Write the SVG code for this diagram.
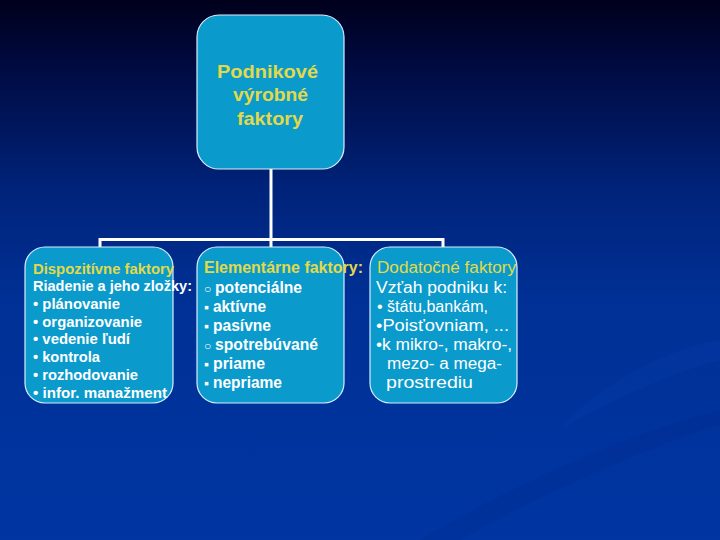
<svg xmlns="http://www.w3.org/2000/svg" width="720" height="540" viewBox="0 0 720 540">
<defs>
<linearGradient id="bg" x1="0" y1="0" x2="0" y2="1">
<stop offset="0" stop-color="#00001c"/>
<stop offset="0.12" stop-color="#000a40"/>
<stop offset="0.35" stop-color="#00237a"/>
<stop offset="0.55" stop-color="#003095"/>
<stop offset="1" stop-color="#0035a2"/>
</linearGradient>
<style>
.box{fill:#0a9acc;stroke:#d8eeff;stroke-width:1.2}
.conn{stroke:#ffffff;stroke-width:3;fill:none}
.t{font-family:"Liberation Sans",Arial,sans-serif;fill:#ffffff}
.y{fill:#e2d94a}
.b{font-weight:bold}
</style>
</defs>
<rect width="720" height="540" fill="url(#bg)"/>
<path d="M560,430 C600,380 680,345 720,340 L720,360 C680,370 610,400 560,430 Z" fill="#0a3fae" opacity="0.25"/>
<path d="M420,540 C520,480 640,430 720,410 L720,425 C650,445 540,495 460,540 Z" fill="#002a88" opacity="0.2"/>
<g id="connectors">
<line class="conn" x1="271" y1="169" x2="271" y2="248"/>
<polyline class="conn" points="100,248 100,239.5 443,239.5 443,248"/>
</g>
<g id="top">
<rect class="box" x="197" y="15" width="147" height="154" rx="22"/>
<text class="t y b" font-size="19" x="217" y="78" textLength="101" lengthAdjust="spacingAndGlyphs">Podnikové</text>
<text class="t y b" font-size="19" x="233" y="101" textLength="75" lengthAdjust="spacingAndGlyphs">výrobné</text>
<text class="t y b" font-size="19" x="237" y="125" textLength="66" lengthAdjust="spacingAndGlyphs">faktory</text>
</g>
<g id="dispozitivne">
<rect class="box" x="25" y="247" width="148" height="156" rx="20"/>
<g class="t b" font-size="14">
<text class="y" x="33" y="274" textLength="141" lengthAdjust="spacingAndGlyphs">Dispozitívne faktory</text>
<text x="33" y="291" textLength="159" lengthAdjust="spacingAndGlyphs">Riadenie a jeho zložky:</text>
<text x="33" y="309" textLength="87" lengthAdjust="spacingAndGlyphs">• plánovanie</text>
<text x="33" y="327" textLength="109" lengthAdjust="spacingAndGlyphs">• organizovanie</text>
<text x="33" y="344" textLength="97" lengthAdjust="spacingAndGlyphs">• vedenie ľudí</text>
<text x="33" y="362" textLength="67" lengthAdjust="spacingAndGlyphs">• kontrola</text>
<text x="33" y="380" textLength="105" lengthAdjust="spacingAndGlyphs">• rozhodovanie</text>
<text x="33" y="398" textLength="134" lengthAdjust="spacingAndGlyphs">• infor. manažment</text>
</g>
</g>
<g id="elementarne">
<rect class="box" x="197" y="247" width="147" height="156" rx="20"/>
<g class="t b" font-size="16">
<text class="y" x="204" y="273" textLength="159" lengthAdjust="spacingAndGlyphs">Elementárne faktory:</text>
<text x="204" y="293"><tspan font-size="12" font-weight="normal">○</tspan><tspan x="215" textLength="87" lengthAdjust="spacingAndGlyphs">potenciálne</tspan></text>
<text x="204" y="312"><tspan font-size="14">▪</tspan><tspan x="213" textLength="53" lengthAdjust="spacingAndGlyphs">aktívne</tspan></text>
<text x="204" y="331"><tspan font-size="14">▪</tspan><tspan x="213" textLength="58" lengthAdjust="spacingAndGlyphs">pasívne</tspan></text>
<text x="204" y="350"><tspan font-size="12" font-weight="normal">○</tspan><tspan x="215" textLength="103" lengthAdjust="spacingAndGlyphs">spotrebúvané</tspan></text>
<text x="204" y="369"><tspan font-size="14">▪</tspan><tspan x="213" textLength="52" lengthAdjust="spacingAndGlyphs">priame</tspan></text>
<text x="204" y="388"><tspan font-size="14">▪</tspan><tspan x="213" textLength="69" lengthAdjust="spacingAndGlyphs">nepriame</tspan></text>
</g>
</g>
<g id="dodatocne">
<rect class="box" x="370" y="247" width="147" height="156" rx="20"/>
<g class="t" font-size="16">
<text class="y" x="377" y="273" textLength="139" lengthAdjust="spacingAndGlyphs">Dodatočné faktory</text>
<text x="376" y="293" textLength="131" lengthAdjust="spacingAndGlyphs">Vzťah podniku k:</text>
<text x="377" y="312" textLength="111" lengthAdjust="spacingAndGlyphs">•  štátu,bankám,</text>
<text x="376" y="331" textLength="133" lengthAdjust="spacingAndGlyphs">•Poisťovniam, ...</text>
<text x="376" y="350" textLength="136" lengthAdjust="spacingAndGlyphs">•k mikro-, makro-,</text>
<text x="387" y="369" textLength="115" lengthAdjust="spacingAndGlyphs">mezo- a mega-</text>
<text x="386" y="388" textLength="87" lengthAdjust="spacingAndGlyphs">prostrediu</text>
</g>
</g>
</svg>
